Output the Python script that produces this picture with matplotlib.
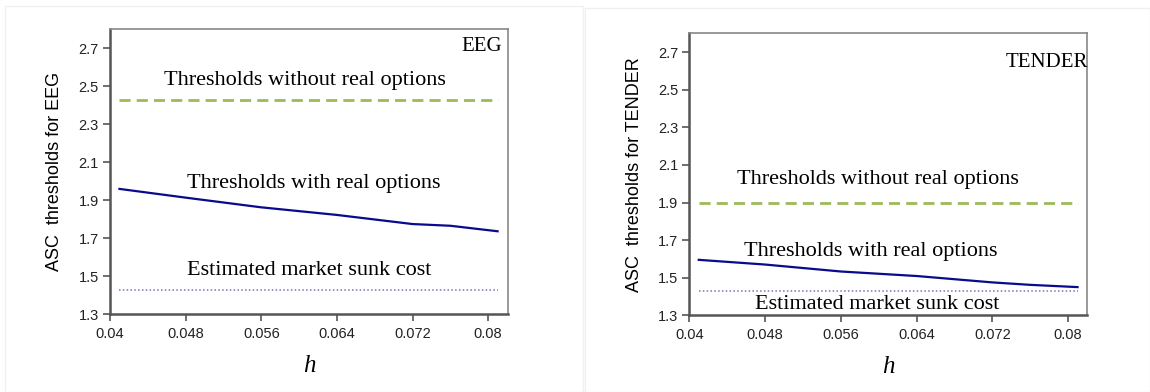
import matplotlib
matplotlib.use("Agg")
import matplotlib.pyplot as plt
from matplotlib.patches import Rectangle

# ---- data ----
h_values = [0.041, 0.048, 0.056, 0.064, 0.072, 0.076, 0.081]
eeg_with_options = [1.96, 1.914, 1.863, 1.823, 1.775, 1.766, 1.737]
tender_with_options = [1.595, 1.57, 1.533, 1.509, 1.475, 1.462, 1.45]
eeg_without_options = 2.43
tender_without_options = 1.90
market_sunk_cost = 1.43
x_ticks = [0.04, 0.048, 0.056, 0.064, 0.072, 0.08]
x_tick_labels = ["0.04", "0.048", "0.056", "0.064", "0.072", "0.08"]
y_ticks = [1.3, 1.5, 1.7, 1.9, 2.1, 2.3, 2.5, 2.7]
y_tick_labels = ["1.3", "1.5", "1.7", "1.9", "2.1", "2.3", "2.5", "2.7"]

W, H = 1150, 392
fig = plt.figure(figsize=(W / 100, H / 100), dpi=100)

# faint panel borders
for (x0, y0, x1, y1) in [(5, 6, 583, 392), (585, 8, 1150, 392)]:
    fig.add_artist(Rectangle((x0 / W, 1 - y1 / H), (x1 - x0) / W, (y1 - y0) / H,
                             transform=fig.transFigure, fill=False,
                             edgecolor="#f0f0f0", linewidth=1))

serif = "Liberation Serif"
sans = "Liberation Sans"

panels = [
    dict(rect=[110 / W, 1 - 314.3 / H, 398 / W, 285 / H], xmax=0.0821,
         withopt=eeg_with_options, without=eeg_without_options,
         ylabel="ASC  thresholds for EEG", tag="EEG", tag_xy=(0.0815, 2.71),
         t1=(0.0606, 2.533), t2=(0.0616, 1.986), t3=(0.0611, 1.53)),
    dict(rect=[689.3 / W, 1 - 315.3 / H, 397.7 / W, 282 / H], xmax=0.0820,
         withopt=tender_with_options, without=tender_without_options,
         ylabel="ASC  thresholds for TENDER", tag="TENDER", tag_xy=(0.0821, 2.645),
         t1=(0.0599, 2.024), t2=(0.0592, 1.638), t3=(0.0598, 1.358)),
]

for p in panels:
    ax = fig.add_axes(p["rect"])
    ax.plot(h_values, p["withopt"], color="#0a0a8c", linewidth=1.6)
    ax.plot([h_values[0], h_values[-1]], [p["without"], p["without"]],
            color="#9bbb59", linewidth=2, linestyle=(0, (4, 2.2)))
    ax.plot([h_values[0], h_values[-1]], [market_sunk_cost, market_sunk_cost],
            color="#8070b8", linewidth=1.1, linestyle=(0, (1, 1.5)))
    ax.set_xlim(0.04, p["xmax"])
    ax.set_ylim(1.3, 2.8)
    ax.set_xticks(x_ticks)
    ax.set_xticklabels(x_tick_labels, fontfamily=sans, fontsize=10.5, color="#222222")
    ax.set_yticks(y_ticks)
    ax.set_yticklabels(y_tick_labels, fontfamily=sans, fontsize=10.5, color="#222222")
    ax.tick_params(direction="out", length=5, width=1.2, color="#555555", pad=3)
    ax.tick_params(axis="x", pad=4)
    for s in ["left", "bottom"]:
        ax.spines[s].set_color("#555555")
        ax.spines[s].set_linewidth(1.8)
    for s in ["top", "right"]:
        ax.spines[s].set_color("#888888")
        ax.spines[s].set_linewidth(1.2)
    ax.set_ylabel(p["ylabel"], fontfamily=sans, fontsize=13, labelpad=11)
    ax.set_xlabel("h", fontfamily=serif, fontstyle="italic", fontsize=18, labelpad=10)
    ax.text(p["tag_xy"][0], p["tag_xy"][1], p["tag"], fontfamily=serif, fontsize=15,
            ha="right", va="center")
    ax.text(*p["t1"], "Thresholds without real options", fontfamily=serif,
            fontsize=16, ha="center", va="center")
    ax.text(*p["t2"], "Thresholds with real options", fontfamily=serif,
            fontsize=16, ha="center", va="center")
    ax.text(*p["t3"], "Estimated market sunk cost", fontfamily=serif,
            fontsize=16, ha="center", va="center")

fig.savefig("out.png", dpi=100)
